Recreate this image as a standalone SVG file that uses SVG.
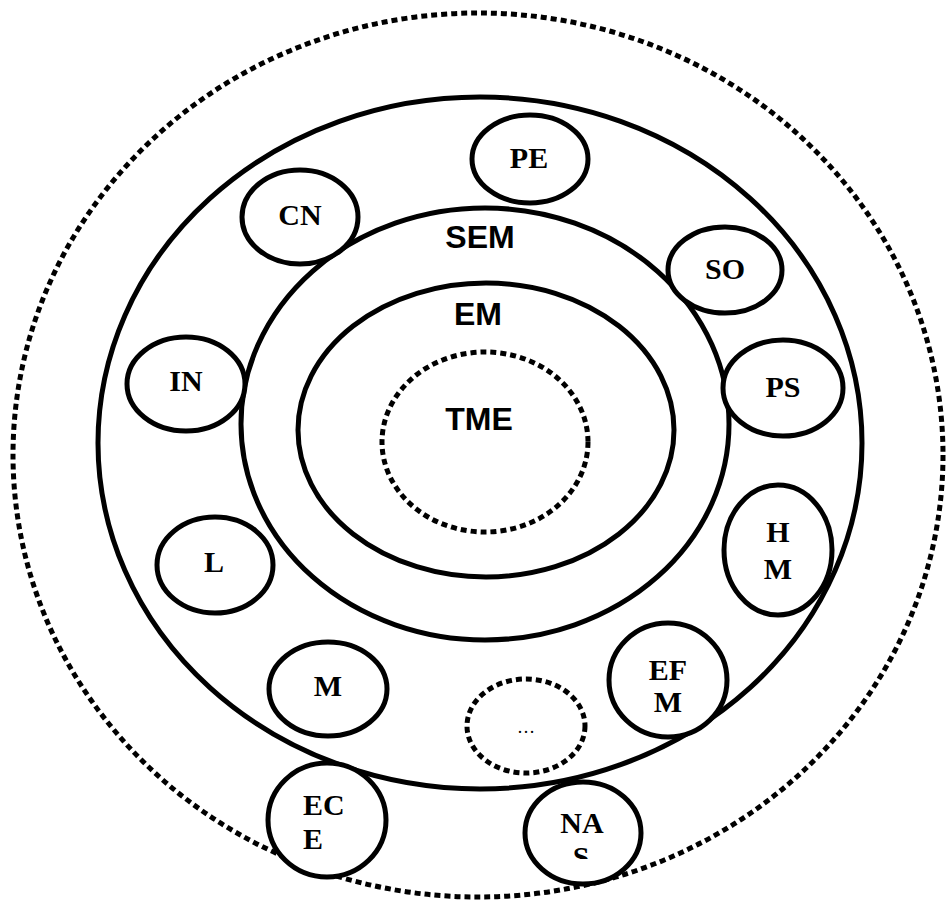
<svg xmlns="http://www.w3.org/2000/svg" width="950" height="904" viewBox="0 0 950 904">
<style>
.ring{fill:none;stroke:#000;stroke-width:5}
.node{fill:#fff;stroke:#000;stroke-width:5}
.dot{fill:none;stroke:#000;stroke-width:5;stroke-dasharray:6 4}
.dotn{fill:#fff;stroke:#000;stroke-width:5;stroke-dasharray:6 4}
.sans{font-family:"Liberation Sans",Arial,sans-serif;font-weight:bold;font-size:32px;text-anchor:middle}
.ser{font-family:"Liberation Serif","Times New Roman",serif;font-weight:bold;font-size:30px;text-anchor:middle}
</style>
<defs>
<clipPath id="clipNAS"><rect x="520" y="780" width="130" height="79"/></clipPath>
</defs>
<rect width="950" height="904" fill="#fff"/>
<g id="outer"><ellipse class="dot" cx="478" cy="455" rx="465" ry="442"/></g>
<g id="ring"><ellipse class="ring" cx="480" cy="443" rx="382" ry="346"/></g>
<g id="SEM"><ellipse class="ring" cx="485" cy="424" rx="244" ry="216"/><text class="sans" x="480" y="248">SEM</text></g>
<g id="EM"><ellipse class="ring" cx="486" cy="430" rx="188" ry="147"/><text class="sans" x="478" y="325">EM</text></g>
<g id="TME"><ellipse class="dot" cx="485" cy="442" rx="103" ry="90"/><text class="sans" x="479" y="430">TME</text></g>
<g id="connectors"></g>
<g id="PE"><ellipse class="node" cx="530" cy="159" rx="58" ry="44"/><text class="ser" x="529" y="168">PE</text></g>
<g id="CN"><ellipse class="node" cx="300" cy="217" rx="58" ry="47"/><text class="ser" x="300" y="225">CN</text></g>
<g id="SO"><ellipse class="node" cx="725" cy="270" rx="57" ry="43"/><text class="ser" x="725" y="279">SO</text></g>
<g id="IN"><ellipse class="node" cx="186" cy="384" rx="59" ry="47"/><text class="ser" x="186" y="391">IN</text></g>
<g id="PS"><ellipse class="node" cx="783" cy="388" rx="60" ry="48"/><text class="ser" x="783" y="397">PS</text></g>
<g id="HM"><ellipse class="node" cx="778" cy="550" rx="54" ry="65"/><text class="ser" x="778" y="542">H</text><text class="ser" x="778" y="579">M</text></g>
<g id="L"><ellipse class="node" cx="215" cy="565" rx="58" ry="48"/><text class="ser" x="214" y="572">L</text></g>
<g id="M"><ellipse class="node" cx="328" cy="689" rx="59" ry="47"/><text class="ser" x="328" y="696">M</text></g>
<g id="EFM"><ellipse class="node" cx="668" cy="680" rx="59" ry="57"/><text class="ser" x="668" y="680">EF</text><text class="ser" x="668" y="712">M</text></g>
<g id="more"><ellipse class="dotn" cx="526" cy="726" rx="59" ry="47"/><text class="ser" x="526" y="733" style="font-size:18px;font-weight:normal">…</text></g>
<g id="ECE"><ellipse class="node" cx="327" cy="820" rx="59" ry="57"/><text class="ser" x="303" y="815" style="text-anchor:start">EC</text><text class="ser" x="303" y="849" style="text-anchor:start">E</text></g>
<g id="NAS"><ellipse class="node" cx="583" cy="833" rx="58" ry="51"/><text class="ser" x="582" y="833">NA</text><text class="ser" x="581" y="867" clip-path="url(#clipNAS)">S</text></g>
</svg>
